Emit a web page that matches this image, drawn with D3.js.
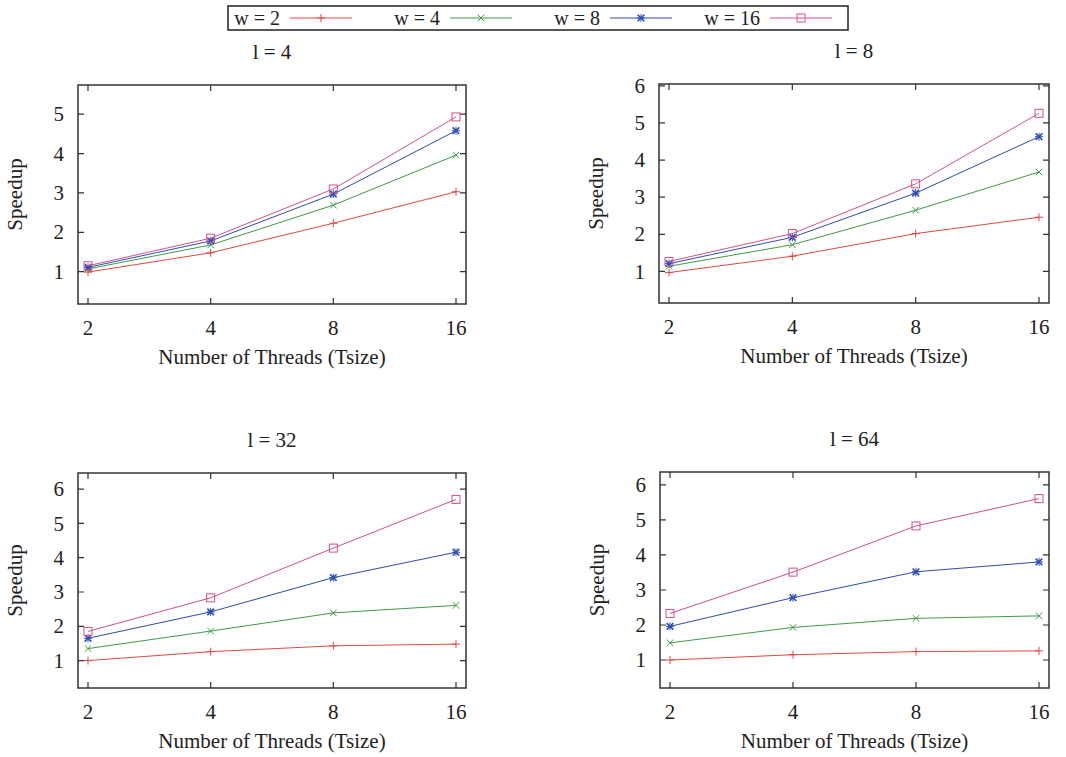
<!DOCTYPE html>
<html>
<head>
<meta charset="utf-8">
<script src="https://cdn.jsdelivr.net/npm/d3@7"></script>
<style>
  body { margin: 0; background: #fff; }
  svg { display: block; }
  svg text { font-family: "Liberation Serif", "Times New Roman", serif; }
</style>
</head>
<body>
<svg id="chart" width="1066" height="757"></svg>
<script>
// data
const threads = [2, 4, 8, 16];
const seriesNames = ["w = 2", "w = 4", "w = 8", "w = 16"];
const panelTitles = ["l = 4", "l = 8", "l = 32", "l = 64"];

const speedupL4 = [
  [0.99, 1.48, 2.23, 3.03],
  [1.07, 1.68, 2.69, 3.96],
  [1.11, 1.78, 2.97, 4.58],
  [1.15, 1.85, 3.10, 4.93]
];
const speedupL8 = [
  [0.97, 1.41, 2.02, 2.46],
  [1.14, 1.72, 2.65, 3.68],
  [1.21, 1.92, 3.11, 4.63],
  [1.27, 2.02, 3.36, 5.26]
];
const speedupL32 = [
  [1.00, 1.26, 1.43, 1.48],
  [1.35, 1.86, 2.39, 2.61],
  [1.65, 2.42, 3.42, 4.16],
  [1.85, 2.83, 4.28, 5.70]
];
const speedupL64 = [
  [1.00, 1.15, 1.24, 1.26],
  [1.49, 1.93, 2.19, 2.26],
  [1.96, 2.78, 3.52, 3.80],
  [2.33, 3.51, 4.83, 5.61]
];

const yRanges = [[0.18, 5.74], [0.15, 6.05], [0.2, 6.47], [0.2, 6.37]];
const yTicks = [[1, 2, 3, 4, 5], [1, 2, 3, 4, 5, 6], [1, 2, 3, 4, 5, 6], [1, 2, 3, 4, 5, 6]];

const colors = ["#e2463f", "#3f9a45", "#2b4db5", "#d4508a"];
const markers = ["plus", "cross", "star", "square"];

const panelData = [speedupL4, speedupL8, speedupL32, speedupL64];
// plot box of each panel
const boxes = [
  { x0: 78, x1: 466, y0: 85, y1: 304 },
  { x0: 659, x1: 1049, y0: 84, y1: 303 },
  { x0: 78, x1: 466, y0: 473, y1: 688 },
  { x0: 660, x1: 1049, y0: 472, y1: 688 }
];

const svg = d3.select("#chart");
const borderColor = "#333";
const fs = 21;

function drawMarker(g, type, x, y, color) {
  const s = 4;
  if (type === "plus" || type === "star") {
    g.append("path").attr("d", `M${x - s},${y}H${x + s}M${x},${y - s}V${y + s}`)
      .attr("stroke", color).attr("stroke-width", 1).attr("fill", "none");
  }
  if (type === "cross" || type === "star") {
    const c = 3.3;
    g.append("path").attr("d", `M${x - c},${y - c}L${x + c},${y + c}M${x - c},${y + c}L${x + c},${y - c}`)
      .attr("stroke", color).attr("stroke-width", type === "star" ? 1.6 : 1).attr("fill", "none");
  }
  if (type === "square") {
    g.append("rect").attr("x", x - s).attr("y", y - s).attr("width", 2 * s).attr("height", 2 * s)
      .attr("stroke", color).attr("stroke-width", 1).attr("fill", "none");
  }
}

panelData.forEach((data, p) => {
  const b = boxes[p];
  const g = svg.append("g");

  const x = d3.scaleLog().base(2).domain([2, 16]).range([b.x0 + 10, b.x1 - 10]);
  const y = d3.scaleLinear().domain(yRanges[p]).range([b.y1, b.y0]);

  // ticks, inward on all four sides
  const tl = 6;
  yTicks[p].forEach(t => {
    g.append("path").attr("d", `M${b.x0},${y(t)}h${tl}M${b.x1},${y(t)}h${-tl}`)
      .attr("stroke", borderColor).attr("stroke-width", 1.2);
    g.append("text").attr("x", b.x0 - 14).attr("y", y(t)).attr("dy", "0.34em")
      .attr("text-anchor", "end").attr("font-size", fs).attr("fill", "#222").text(t);
  });
  threads.forEach(t => {
    g.append("path").attr("d", `M${x(t)},${b.y1}v${-tl}M${x(t)},${b.y0}v${tl}`)
      .attr("stroke", borderColor).attr("stroke-width", 1.2);
    g.append("text").attr("x", x(t)).attr("y", b.y1 + 31)
      .attr("text-anchor", "middle").attr("font-size", fs).attr("fill", "#222").text(t);
  });

  g.append("rect").attr("x", b.x0).attr("y", b.y0)
    .attr("width", b.x1 - b.x0).attr("height", b.y1 - b.y0)
    .attr("fill", "none").attr("stroke", borderColor).attr("stroke-width", 1.5);

  // series
  const line = d3.line().x((d, i) => x(threads[i])).y(d => y(d));
  data.forEach((vals, s) => {
    g.append("path").datum(vals).attr("d", line)
      .attr("fill", "none").attr("stroke", colors[s]).attr("stroke-width", 1);
    vals.forEach((v, i) => drawMarker(g, markers[s], x(threads[i]), y(v), colors[s]));
  });

  // labels
  const cx = (b.x0 + b.x1) / 2;
  g.append("text").attr("x", cx).attr("y", b.y0 - 26)
    .attr("text-anchor", "middle").attr("font-size", fs).attr("fill", "#222").text(panelTitles[p]);
  g.append("text").attr("x", cx).attr("y", b.y1 + 60)
    .attr("text-anchor", "middle").attr("font-size", fs).attr("fill", "#222").text("Number of Threads (Tsize)");
  const lx = b.x0 - 56, ly = (b.y0 + b.y1) / 2;
  g.append("text").attr("transform", `translate(${lx},${ly}) rotate(-90)`)
    .attr("text-anchor", "middle").attr("font-size", fs).attr("fill", "#222").text("Speedup");
});

// legend
const leg = svg.append("g");
leg.append("rect").attr("x", 228).attr("y", 6).attr("width", 620).attr("height", 24)
  .attr("fill", "none").attr("stroke", "#222").attr("stroke-width", 1.5);
seriesNames.forEach((name, i) => {
  const x0 = 230 + i * 160;
  leg.append("text").attr("x", x0 + 50).attr("y", 25)
    .attr("text-anchor", "end").attr("font-size", 20).attr("fill", "#222").text(name);
  leg.append("line").attr("x1", x0 + 60).attr("x2", x0 + 122).attr("y1", 18).attr("y2", 18)
    .attr("stroke", colors[i]).attr("stroke-width", 1);
  drawMarker(leg, markers[i], x0 + 91, 18, colors[i]);
});
</script>
</body>
</html>
